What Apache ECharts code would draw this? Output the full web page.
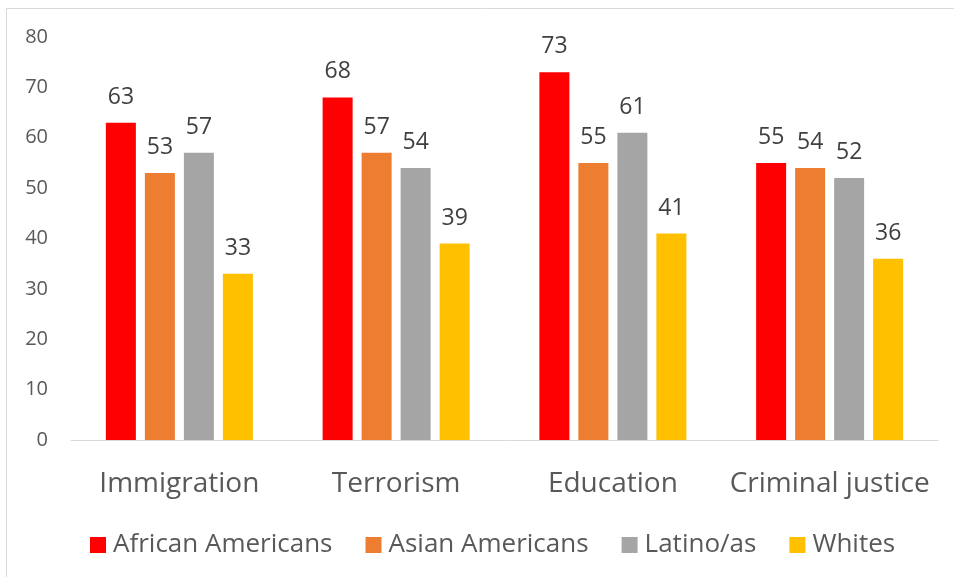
<!DOCTYPE html>
<html>
<head>
<meta charset="utf-8">
<script src="https://cdn.jsdelivr.net/npm/echarts@6/dist/echarts.min.js"></script>
<style>
  html, body { margin: 0; padding: 0; background: #fff; }
  #chart { width: 954px; height: 577px; }
</style>
</head>
<body>
<div id="chart"></div>
<script>
// Issue areas shown along the x axis
const categories = ['Immigration', 'Terrorism', 'Education', 'Criminal justice'];

// Percent per group for each issue
const africanAmericans = [63, 68, 73, 55];
const asianAmericans = [53, 57, 55, 54];
const latinos = [57, 54, 61, 52];
const whites = [33, 39, 41, 36];

const seriesNames = ['African Americans', 'Asian Americans', 'Latino/as', 'Whites'];
const seriesColors = ['#ff0000', '#ed7d31', '#a5a5a5', '#ffc000'];
const seriesValues = [africanAmericans, asianAmericans, latinos, whites];

const yTicks = { min: 0, max: 80, interval: 10 };

const FONT = '"Open Sans", sans-serif';

const chart = echarts.init(document.getElementById('chart'));

chart.setOption({
  backgroundColor: '#ffffff',
  animation: false,
  textStyle: { fontFamily: FONT },
  graphic: [{
    type: 'rect',
    shape: { x: 6.5, y: 8.5, width: 1000, height: 700 },
    style: { fill: 'none', stroke: '#d9d9d9', lineWidth: 1 },
    silent: true,
    z: -10
  }],
  grid: { left: 71, right: 16, top: 37, bottom: 137 },
  legend: {
    data: seriesNames,
    top: 532,
    left: 90,
    itemWidth: 16,
    itemHeight: 16,
    itemGap: 33,
    icon: 'rect',
    padding: 0,
    textStyle: { fontSize: 26, color: '#595959', fontFamily: FONT, padding: [0, 0, 0, 2] }
  },
  xAxis: {
    type: 'category',
    data: categories,
    axisLine: { lineStyle: { color: '#d9d9d9', width: 1 } },
    axisTick: { show: false },
    axisLabel: { interval: 0, fontSize: 28, color: '#595959', margin: 30, fontFamily: FONT }
  },
  yAxis: {
    type: 'value',
    min: yTicks.min,
    max: yTicks.max,
    interval: yTicks.interval,
    axisLine: { show: false },
    axisTick: { show: false },
    splitLine: { show: false },
    axisLabel: { fontSize: 20, color: '#595959', margin: 23, fontFamily: FONT }
  },
  series: seriesNames.map((name, i) => ({
    name: name,
    type: 'bar',
    data: seriesValues[i],
    barWidth: 30,
    barGap: '30%',
    itemStyle: { color: seriesColors[i] },
    label: {
      show: true,
      position: 'top',
      distance: 14,
      fontSize: 23,
      color: '#404040',
      fontFamily: FONT
    }
  }))
});
</script>
</body>
</html>
